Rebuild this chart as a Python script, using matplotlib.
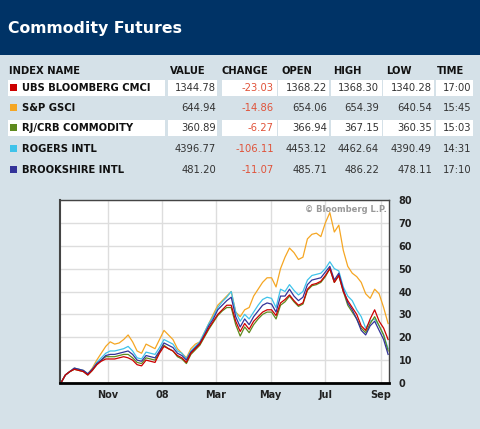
import matplotlib
matplotlib.use("Agg")
import matplotlib.pyplot as plt
from matplotlib.patches import Rectangle
import pandas as pd

W, H = 480, 429

# Table data
names = ["UBS BLOOMBERG CMCI", "S&P GSCI", "RJ/CRB COMMODITY", "ROGERS INTL", "BROOKSHIRE INTL"]
values = ["1344.78", "644.94", "360.89", "4396.77", "481.20"]
changes = ["-23.03", "-14.86", "-6.27", "-106.11", "-11.07"]
opens = ["1368.22", "654.06", "366.94", "4453.12", "485.71"]
highs = ["1368.30", "654.39", "367.15", "4462.64", "486.22"]
lows = ["1340.28", "640.54", "360.35", "4390.49", "478.11"]
times = ["17:00", "15:45", "15:03", "14:31", "17:10"]
colors = ["#cc0000", "#f5a623", "#5e8a1e", "#3fc3ea", "#333399"]

# Chart data: % change, sampled every 5 days
dates = pd.date_range("2007-09-10", periods=74, freq="5D")
ubs = [0, 3.5, 5, 6, 5.5, 5, 3.5, 5.5, 8, 9.5, 10.5, 10.5, 10.5, 11, 11.5, 11, 10, 8, 7.5, 10,
       9.5, 9, 13, 16, 15, 14, 12, 11, 9, 13, 15, 17, 20.5, 24, 27, 30, 32, 34, 34, 27,
       22.5, 26, 23.5, 27, 29, 31, 32, 32, 29.5, 35, 36.5, 38.5, 36, 34, 35, 41, 43, 43.5, 44.5, 47,
       50, 44, 47, 40, 36, 33, 30, 25, 23, 28, 32, 27, 24, 19]
gsci = [0, 3.5, 5, 6.5, 6, 5.5, 4, 6.5, 10, 13, 16, 18, 17, 17.5, 19, 21, 18, 14, 13, 17,
        16, 15, 19, 23, 21, 19, 15, 13, 11, 15, 17, 18, 22, 26, 30, 34, 36, 38, 40, 31,
        29, 32, 33, 38, 41, 44, 46, 46, 42, 50, 55, 59, 57, 54, 55, 63, 65, 65.5, 64, 70,
        74.5, 66, 69, 58, 51, 48, 46.5, 44, 39, 37, 41, 39, 33, 26]
crb = [0, 3.5, 5, 6, 5.5, 5, 3.5, 5.5, 8, 10, 11.5, 11.5, 11.5, 12, 12.5, 12.5, 11, 9, 8.5, 11,
       10.5, 10, 13.5, 16.5, 15, 14, 11.5, 10.5, 8.5, 12.5, 14.5, 16.5, 20, 23.5, 26.5, 29.5, 31.5, 33, 33, 25.5,
       20.5, 24.5, 22, 25.5, 28, 30, 31, 31, 28, 34, 35.5, 38, 35.5, 33.5, 34.5, 40.5, 42.5, 43, 44, 46.5,
       50, 44, 47, 40, 34, 31, 28, 24, 22, 26, 29, 25, 21, 14]
rogers = [0, 3.5, 5, 6.5, 6, 5.5, 4, 6, 9, 11, 13, 14, 14, 14.5, 15, 16, 14, 11, 10.5, 13.5,
          13, 12.5, 15.5, 19, 18, 17, 14, 13, 10.5, 14, 16, 18, 22, 26, 29, 33, 35.5, 37.5, 40, 31,
          27, 30, 28, 31, 34, 36.5, 37.5, 37, 33, 41, 40, 43, 40.5, 38.5, 40, 45, 47, 47.5, 48, 50,
          53, 50, 49, 42, 38, 36, 32, 29, 24, 27, 28, 25, 21, 15]
brookshire = [0, 3.5, 5, 6.5, 6, 5.5, 4, 6, 8.5, 10, 12, 12.5, 12.5, 13, 13.5, 14, 12.5, 10, 9.5, 12,
              11.5, 11, 14, 17.5, 16.5, 15.5, 13, 12, 10, 13.5, 15.5, 17.5, 21, 25, 28, 32, 34, 36, 37.5, 29,
              24.5, 28, 25.5, 29, 31.5, 34, 35, 34.5, 31, 38, 38, 41, 38, 36, 37.5, 43, 45, 45.5, 46, 48.5,
              51, 45, 48, 41, 35, 32, 28, 23, 21, 25, 27, 23, 19, 12.5]

bg = "#d5e1e8"
fig = plt.figure(figsize=(W / 100, H / 100), dpi=100, facecolor=bg)


def fx(x):
    return x / W


def fy(y):
    return 1 - y / H


def box(x0, y0, x1, y1, color, **kw):
    fig.add_artist(Rectangle((fx(x0), fy(y1)), fx(x1) - fx(x0), fy(y0) - fy(y1),
                             transform=fig.transFigure, facecolor=color, edgecolor="none", **kw))


# header band
box(0, 0, W, 55, "#003366")
fig.text(fx(8), fy(28), "Commodity Futures", color="white", fontsize=11.3,
         fontweight="bold", va="center", ha="left")

# table
fs = 7.2
hy = 71
fig.text(fx(9), fy(hy), "INDEX NAME", fontsize=fs, fontweight="bold", va="center", color="#111111")
heads = [("VALUE", 170), ("CHANGE", 222), ("OPEN", 281), ("HIGH", 333), ("LOW", 386), ("TIME", 437)]
for t, x in heads:
    fig.text(fx(x), fy(hy), t, fontsize=fs, fontweight="bold", va="center", color="#111111")

row_y = [88, 108, 128, 149, 170]
cells = [(168, 217), (222, 277), (278, 329), (331, 382), (383, 434), (436, 473)]
for i, name in enumerate(names):
    y = row_y[i]
    if i in (0, 2):
        box(8, y - 8, 165, y + 8, "white")
        for a, b in cells:
            box(a, y - 8, b, y + 8, "white")
    box(10, y - 4, 17, y + 3, colors[i])
    fig.text(fx(22), fy(y), name, fontsize=fs, fontweight="bold", va="center", color="#111111")
    cols = [(values[i], 216, "#333333"), (changes[i], 274, "#e0533a"), (opens[i], 327, "#333333"),
            (highs[i], 379, "#333333"), (lows[i], 432, "#333333"), (times[i], 471, "#333333")]
    for t, x, c in cols:
        fig.text(fx(x), fy(y), t, fontsize=fs, va="center", ha="right", color=c)

# chart
ax = fig.add_axes([fx(60), fy(383), fx(389) - fx(60), fy(200) - fy(383)])
ax.set_facecolor("white")
ax.plot(dates, gsci, color=colors[1], lw=0.9)
ax.plot(dates, rogers, color=colors[3], lw=0.9)
ax.plot(dates, crb, color=colors[2], lw=0.9)
ax.plot(dates, brookshire, color=colors[4], lw=0.9)
ax.plot(dates, ubs, color=colors[0], lw=0.9)

ax.set_xlim(pd.Timestamp("2007-09-09"), pd.Timestamp("2008-09-10"))
ax.set_ylim(0, 80)
ax.yaxis.tick_right()
ax.set_yticks(range(0, 81, 10))
ticks = pd.to_datetime(["2007-11-01", "2008-01-01", "2008-03-01", "2008-05-01", "2008-07-01", "2008-09-01"])
ax.set_xticks(ticks)
ax.set_xticklabels(["Nov", "08", "Mar", "May", "Jul", "Sep"])
ax.tick_params(length=0, labelsize=7, colors="#222222", pad=5)
ax.tick_params(axis="y", pad=7)
for lab in ax.get_xticklabels() + ax.get_yticklabels():
    lab.set_fontweight("bold")
ax.grid(True, color="#dddddd", lw=1)
ax.set_axisbelow(True)
for s in ax.spines.values():
    s.set_color("#444444")
    s.set_linewidth(1)
ax.spines["bottom"].set_color("black")
ax.spines["bottom"].set_linewidth(2)
ax.spines["left"].set_linewidth(1.5)
ax.text(0.995, 0.975, "© Bloomberg L.P.", transform=ax.transAxes, ha="right", va="top",
        fontsize=6, fontweight="bold", color="#999999")

fig.savefig("out.png", dpi=100, facecolor=bg)
